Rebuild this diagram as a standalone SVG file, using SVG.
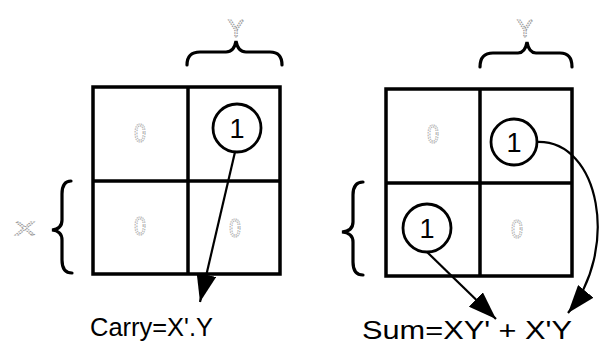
<svg xmlns="http://www.w3.org/2000/svg" width="600" height="346" viewBox="0 0 600 346">
<defs>
<style>
.grid{fill:none;stroke:#000;stroke-width:3.5}
.brace{fill:none;stroke:#000;stroke-width:3.2;stroke-linecap:round}
.circ{fill:none;stroke:#000;stroke-width:2.8}
.one{font-family:"Liberation Sans",Arial,sans-serif;font-size:27px;fill:#000;text-anchor:middle}
.zero{font-family:"Liberation Sans",Arial,sans-serif;font-size:26px;fill:#fff;stroke:#aaa;stroke-width:1.2;stroke-dasharray:1.5 1;text-anchor:middle}
.var{font-family:"Liberation Sans",Arial,sans-serif;font-size:24px;fill:#fff;stroke:#999;stroke-width:1.2;stroke-dasharray:1.5 1;text-anchor:middle}
.lbl{font-family:"Liberation Sans",Arial,sans-serif;font-size:25px;fill:#000}
.conn{fill:none;stroke:#000;stroke-width:2.2}
</style>
<marker id="ahb" viewBox="0 0 28 20" refX="28" refY="10" markerWidth="28" markerHeight="20" markerUnits="userSpaceOnUse" orient="auto">
<path d="M0,0 L28,10 L0,20 z" fill="#000"/>
</marker>
</defs>

<g id="carry-map">
<rect class="grid" x="93" y="87" width="187" height="187"/>
<line class="grid" x1="188" y1="87" x2="188" y2="274"/>
<line class="grid" x1="93" y1="181" x2="280" y2="181"/>
<text class="zero" x="140" y="142" transform="translate(140 0) scale(0.8 1) translate(-140 0)">0</text>
<text class="zero" x="140" y="235" transform="translate(140 0) scale(0.8 1) translate(-140 0)">0</text>
<text class="zero" x="235" y="237" transform="translate(235 0) scale(0.8 1) translate(-235 0)">0</text>
</g>
<g id="carry-one">
<circle class="circ" cx="237" cy="128" r="24"/>
<text class="one" x="237" y="138">1</text>
</g>
<g id="carry-y">
<path class="brace" d="M187,65 Q187,52 200,52 L226,52 Q234,52 236,41 Q238,52 246,52 L270,52 Q282,52 282,65"/>
<text class="var" x="236" y="37">Y</text>
</g>
<g id="carry-x">
<path class="brace" d="M71,181 Q62,181 62,194 L62,220 Q62,229 52,230 Q62,231 62,240 L62,260 Q62,273 72,273"/>
<text class="var" x="25" y="235" transform="translate(25 0) scale(1.3 0.75) translate(-25 78)">X</text>
</g>
<g id="carry-label">
<text class="lbl" x="90" y="336" textLength="123" lengthAdjust="spacingAndGlyphs">Carry=X'.Y</text>
</g>

<g id="sum-map">
<rect class="grid" x="386" y="89" width="186" height="187"/>
<line class="grid" x1="480" y1="89" x2="480" y2="276"/>
<line class="grid" x1="386" y1="183" x2="572" y2="183"/>
<text class="zero" x="433" y="143" transform="translate(433 0) scale(0.8 1) translate(-433 0)">0</text>
<text class="zero" x="517" y="238" transform="translate(517 0) scale(0.8 1) translate(-517 0)">0</text>
</g>
<g id="sum-one-top">
<circle class="circ" cx="514" cy="142" r="23"/>
<text class="one" x="514" y="152">1</text>
</g>
<g id="sum-one-bottom">
<circle class="circ" cx="427" cy="228" r="24"/>
<text class="one" x="427" y="238">1</text>
</g>
<g id="sum-y">
<path class="brace" d="M480,67 Q480,53 493,53 L518,53 Q525,53 527,42 Q529,53 536,53 L560,53 Q572,53 572,67"/>
<text class="var" x="525" y="37">Y</text>
</g>
<g id="sum-x">
<path class="brace" d="M363,182 Q353,182 353,195 L353,222 Q353,231 342,232 Q353,233 353,242 L353,262 Q353,275 363,275"/>
</g>
<g id="sum-label">
<text class="lbl" x="362" y="339" textLength="210" lengthAdjust="spacingAndGlyphs">Sum=XY' + X'Y</text>
</g>

<g id="connectors">
<line class="conn" x1="235" y1="152" x2="200" y2="302" marker-end="url(#ahb)"/>
<line class="conn" x1="427" y1="252" x2="496" y2="319" marker-end="url(#ahb)"/>
<path class="conn" d="M537,142 C600,140 620,250 568,313" marker-end="url(#ahb)"/>
</g>
</svg>
